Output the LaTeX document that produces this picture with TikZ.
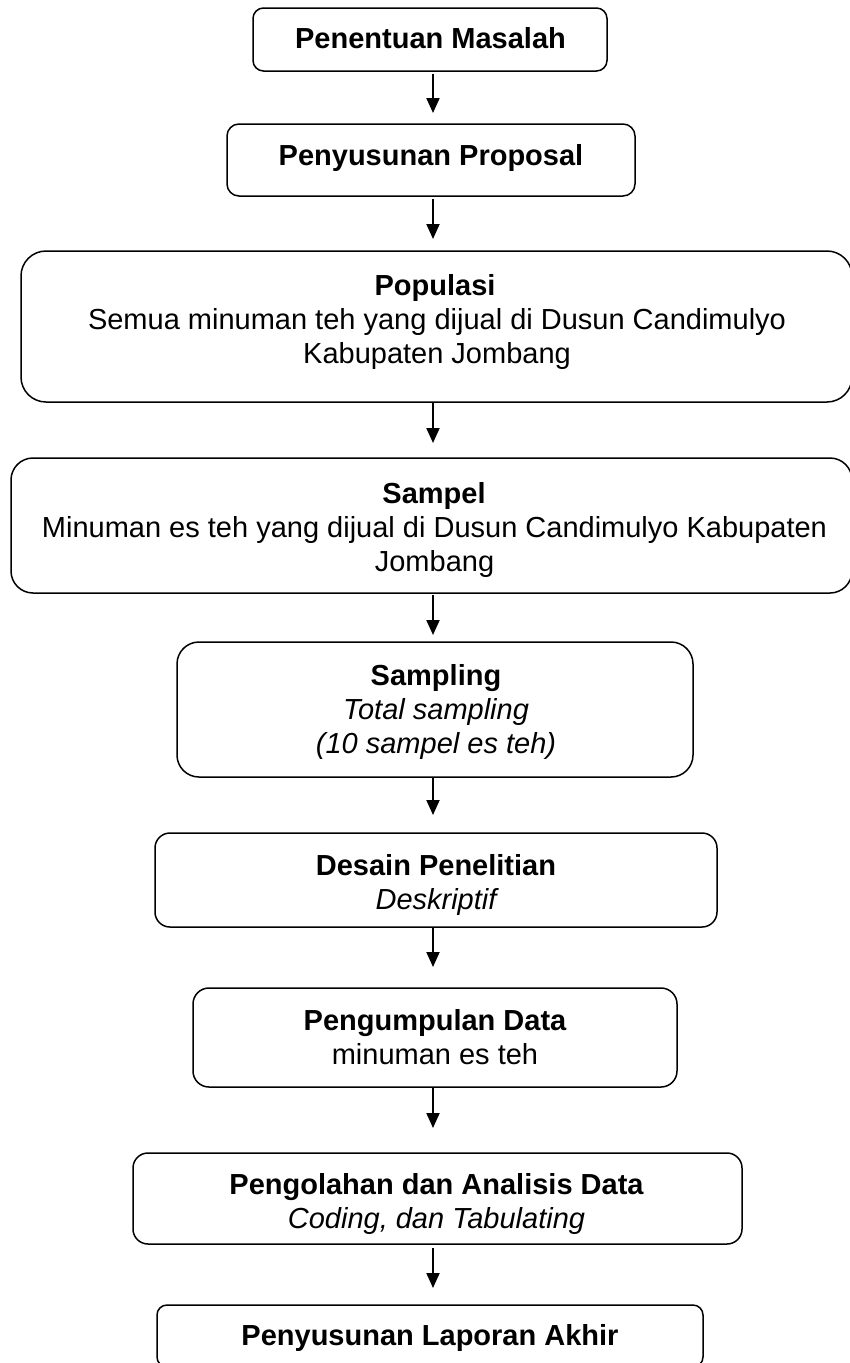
\documentclass[tikz,border=0pt]{standalone}
\usepackage{fontspec}
\setmainfont{Liberation Sans}
\usetikzlibrary{arrows.meta}
\begin{document}
\begin{tikzpicture}[x=1pt,y=-1pt,
  box/.style={draw=black, line width=1.5pt, inner sep=0pt, outer sep=0pt, fill=white},
  txt/.style={anchor=base, inner sep=0pt, font=\fontsize{29}{34}\selectfont},
  ttl/.style={txt, font=\fontsize{29}{34}\selectfont\bfseries},
  itl/.style={txt, font=\fontsize{29}{34}\selectfont\itshape},
  arr/.style={line width=2pt, -{Triangle[width=13pt,length=15pt]}}]
\useasboundingbox (0,0) rectangle (850,1363);
\coordinate (ax) at (433,0);
% boxes
\node[box, minimum width=354pt, minimum height=63pt, rounded corners=10.5pt] (b1) at (430,39.5) {};
\node[box, minimum width=408pt, minimum height=72pt, rounded corners=12pt] (b2) at (431,160) {};
\node[box, minimum width=831pt, minimum height=151pt, rounded corners=25pt] (b3) at (436.5,326.5) {};
\node[box, minimum width=841pt, minimum height=135pt, rounded corners=22pt] (b4) at (431.5,525.5) {};
\node[box, minimum width=516pt, minimum height=135pt, rounded corners=22pt] (b5) at (435,709.5) {};
\node[box, minimum width=562pt, minimum height=94pt, rounded corners=15pt] (b6) at (436,880) {};
\node[box, minimum width=484pt, minimum height=99pt, rounded corners=16pt] (b7) at (435,1037.5) {};
\node[box, minimum width=609pt, minimum height=91pt, rounded corners=15pt] (b8) at (437.5,1198.5) {};
\node[box, minimum width=546pt, minimum height=62pt, rounded corners=10pt] (b9) at (430,1336) {};
% texts
\node[ttl] (t1) at (430.5,48) {Penentuan Masalah};
\node[ttl] (t2) at (431,165) {Penyusunan Proposal};
\node[ttl] (t3a) at (435,295) {Populasi};
\node[txt] (t3b) at (437,329) {Semua minuman teh yang dijual di Dusun Candimulyo};
\node[txt] (t3c) at (437,363) {Kabupaten Jombang};
\node[ttl] (t4a) at (434,503) {Sampel};
\node[txt] (t4b) at (434.5,537) {Minuman es teh yang dijual di Dusun Candimulyo Kabupaten};
\node[txt] (t4c) at (434.5,571) {Jombang};
\node[ttl] (t5a) at (436,685) {Sampling};
\node[itl] (t5b) at (436,719) {Total sampling};
\node[itl] (t5c) at (436,753) {(10 sampel es teh)};
\node[ttl] (t6a) at (436,875) {Desain Penelitian};
\node[itl] (t6b) at (436,909) {Deskriptif};
\node[ttl] (t7a) at (435,1030) {Pengumpulan Data};
\node[txt] (t7b) at (435,1064) {minuman es teh};
\node[ttl] (t8a) at (436.5,1194) {Pengolahan dan Analisis Data};
\node[itl] (t8b) at (436.5,1228) {Coding, dan Tabulating};
\node[ttl] (t9) at (430,1345) {Penyusunan Laporan Akhir};
% arrows
\draw[arr, shorten <=3pt, shorten >=11pt] (b1.south -| ax) -- (b2.north -| ax);
\draw[arr, shorten <=3pt, shorten >=12pt] (b2.south -| ax) -- (b3.north -| ax);
\draw[arr, shorten <=1pt, shorten >=15pt] (b3.south -| ax) -- (b4.north -| ax);
\draw[arr, shorten <=2pt, shorten >=7pt] (b4.south -| ax) -- (b5.north -| ax);
\draw[arr, shorten >=18pt] (b5.south -| ax) -- (b6.north -| ax);
\draw[arr, shorten >=21pt] (b6.south -| ax) -- (b7.north -| ax);
\draw[arr, shorten >=25pt] (b7.south -| ax) -- (b8.north -| ax);
\draw[arr, shorten <=4pt, shorten >=17pt] (b8.south -| ax) -- (b9.north -| ax);
\end{tikzpicture}
\end{document}
